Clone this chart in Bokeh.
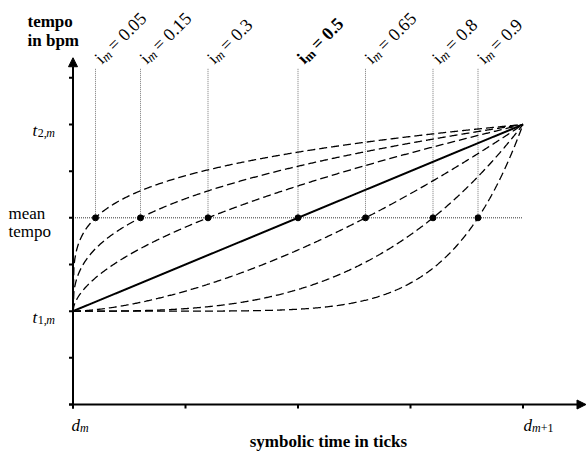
import numpy as np
from bokeh.plotting import figure
from bokeh.models import Range1d, Arrow, NormalHead
from bokeh.core.properties import value
from bokeh.embed import file_html
from bokeh.resources import INLINE

# ---------------- data ----------------
i_values = [0.05, 0.15, 0.3, 0.5, 0.65, 0.8, 0.9]
i_labels = ["0.05", "0.15", "0.3", "0.5", "0.65", "0.8", "0.9"]
d_start, d_end = 0.0, 4.0          # d_m , d_{m+1}  (symbolic time)
t_start, t_end = 2.0, 6.0          # t_{1,m}, t_{2,m} (tempo)
t_mean = 4.0                       # mean tempo
x_ticks = [0, 1, 2, 3, 4]
y_ticks = [0, 1, 2, 3, 4, 5, 6, 7]
x_axis_end = 4.56
y_axis_end = 7.43
guide_top = 7.2

FONT = value("Liberation Serif")
W, H = 588, 451
SX, SY = 112.5, 46.67              # pixels per data unit
x0 = -72.5 / SX
y0 = -47.0 / SY

p = figure(width=W, height=H, output_backend="svg", toolbar_location=None,
           x_range=Range1d(x0, x0 + W / SX), y_range=Range1d(y0, y0 + H / SY),
           x_axis_location=None, y_axis_location=None, min_border=0,
           background_fill_color="white", border_fill_color="white",
           outline_line_color=None)
p.grid.visible = False


def txt(x, y, s, dx, dy, size, style="normal", angle=0.0, align="left"):
    # dx, dy: screen-pixel shifts (dy positive = down), folded into data coords
    p.text(x=[x + dx / SX], y=[y - dy / SY], text=[s],
           angle=angle, angle_units="deg",
           text_font=FONT, text_font_size=f"{size}px", text_font_style=style,
           text_align=align, text_baseline="alphabetic", text_color="black")


# guide lines
for iv in i_values:
    xm = d_start + iv * (d_end - d_start)
    p.segment(x0=[xm], y0=[t_mean], x1=[xm], y1=[guide_top],
              line_color="#7a7a7a", line_width=1, line_dash="1 1")
p.segment(x0=[d_start], y0=[t_mean], x1=[d_end], y1=[t_mean],
          line_color="#333333", line_width=1, line_dash="1 1")

# tempo curves
xs = np.linspace(d_start, d_end, 500)
for iv in i_values:
    expo = np.log(0.5) / np.log(iv)
    ys = t_start + (t_end - t_start) * ((xs - d_start) / (d_end - d_start)) ** expo
    if iv == 0.5:
        p.line(xs, ys, line_color="black", line_width=2)
    else:
        p.line(xs, ys, line_color="black", line_width=1.3, line_dash="8 4")

# mean-tempo points
p.scatter([d_start + iv * (d_end - d_start) for iv in i_values],
          [t_mean] * len(i_values), size=6, color="black")

# axes
p.add_layout(Arrow(end=NormalHead(size=9, fill_color="black", line_color="black"),
                   x_start=-4 / SX, y_start=0, x_end=x_axis_end, y_end=0,
                   line_width=2, line_color="black"))
p.add_layout(Arrow(end=NormalHead(size=9, fill_color="black", line_color="black"),
                   x_start=0, y_start=-4 / SY, x_end=0, y_end=y_axis_end,
                   line_width=2, line_color="black"))
p.segment(x0=x_ticks, y0=[0] * len(x_ticks), x1=x_ticks, y1=[-4 / SY] * len(x_ticks),
          line_color="black", line_width=2)
p.segment(x0=[0] * len(y_ticks), y0=y_ticks, x1=[-4 / SX] * len(y_ticks), y1=y_ticks,
          line_color="black", line_width=2)

# axis titles
txt(0, y_axis_end, "tempo", -45.5, -36, 17, "bold")
txt(0, y_axis_end, "in bpm", -45.5, -17, 17, "bold")
txt(2.27, 0, "symbolic time in ticks", 0, 37, 17, "bold", align="center")

# y labels
for yv, sub in [(t_end, "2,"), (t_start, "1,")]:
    txt(0, yv, "t", -40.5, 6, 17, "italic")
    txt(0, yv, sub, -35.3, 9, 12, "normal")
    txt(0, yv, "m", -26.8, 9, 12, "italic")
txt(0, t_mean, "mean", -64.5, -4, 17)
txt(0, t_mean, "tempo", -64.5, 14, 17)

# x labels
txt(d_start, 0, "d", -1.5, 21, 17, "italic")
txt(d_start, 0, "m", 7.0, 23.5, 12, "italic")
txt(d_end, 0, "d", 0.5, 21, 17, "italic")
txt(d_end, 0, "m", 9.0, 23.5, 12, "italic")
txt(d_end, 0, "+1", 17.7, 23.5, 12, "normal")

# rotated i_m labels (45 degrees)
fs, fss = 18, 13
c = 0.70711
for iv, lab in zip(i_values, i_labels):
    xm = d_start + iv * (d_end - d_start)
    bold = (iv == 0.5)
    st = "bold" if bold else "normal"
    sub_st = "bold" if bold else "italic"
    w_m = (0.833 if bold else 0.722) * fss
    a_m = 0.278 * fs
    a_eq = a_m + w_m + 0.2 * fs
    a_val = a_eq + 0.57 * fs + 0.25 * fs
    bx, by = 2.0, -8.0
    pieces = [("i", 0.0, 0.0, fs, st), ("m", a_m, 3.2, fss, sub_st),
              ("=", a_eq, 0.0, fs, st), (lab, a_val, 0.0, fs, st)]
    for s, a, sh, size, sty in pieces:
        txt(xm, guide_top, s, bx + c * (a + sh), by + c * (sh - a), size, sty, angle=45)

open("out.html", "w").write(file_html(p, INLINE))
